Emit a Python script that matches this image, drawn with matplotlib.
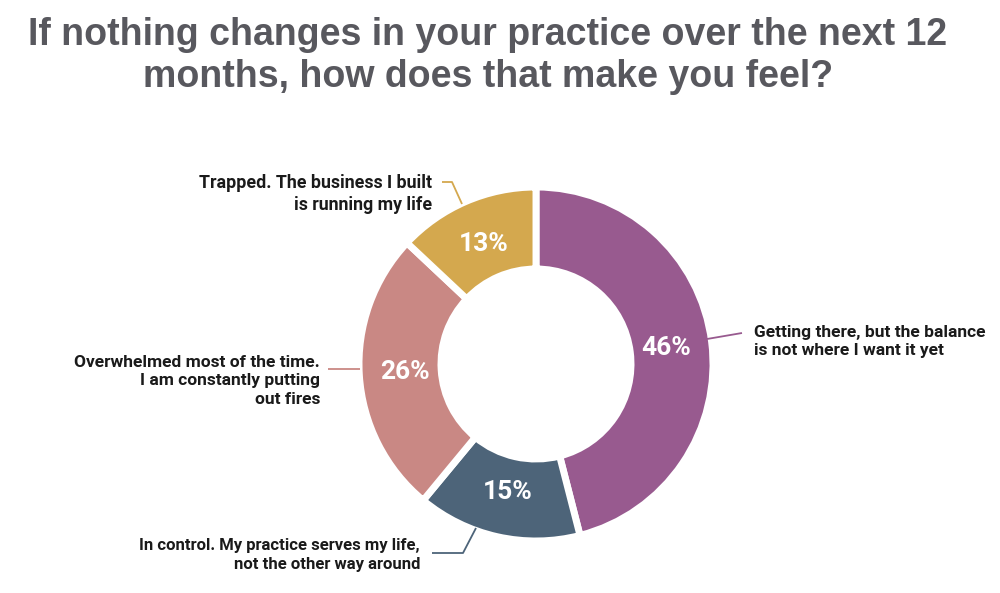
import matplotlib
matplotlib.use("Agg")
import matplotlib.pyplot as plt

W, H = 1000, 593

title = "If nothing changes in your practice over the next 12\nmonths, how does that make you feel?"

# slices, clockwise from 12 o'clock
labels = [
    "Getting there, but the balance\nis not where I want it yet",
    "In control. My practice serves my life,\nnot the other way around",
    "Overwhelmed most of the time.\nI am constantly putting\nout fires",
    "Trapped. The business I built\nis running my life",
]
shares = [46, 15, 26, 13]
colors = ["#985a8f", "#4d6479", "#c98884", "#d4a84e"]


def Y(v):
    # pixel rows are counted from the top in my notes
    return H - v


fig = plt.figure(figsize=(W / 100, H / 100), dpi=100)
fig.patch.set_facecolor("white")
ax = fig.add_axes([0, 0, 1, 1])

r_out, r_in = 177, 95
wedges, _, pcts = ax.pie(
    shares,
    colors=colors,
    startangle=90,
    counterclock=False,
    radius=r_out,
    center=(536, Y(364)),
    wedgeprops=dict(width=r_out - r_in, edgecolor="white", linewidth=5),
    autopct="%.0f%%",
    pctdistance=0.74,
    textprops=dict(color="white", fontsize=19, fontweight="bold", family=["Roboto", "DejaVu Sans"]),
)

ax.set_xlim(0, W)
ax.set_ylim(0, H)
ax.set_aspect("equal")
ax.axis("off")

# title
fig.text(0.488, Y(56) / H, title, ha="center", va="center", fontsize=27,
         fontweight="bold", color="#58585e", linespacing=1.24,
         family=["Liberation Sans", "DejaVu Sans"])

lab_font = dict(fontweight="bold", color="#1a1a1a",
                family=["Roboto", "DejaVu Sans"], linespacing=1.3)

# label anchor (x, y-center), alignment, size, leader line points
placements = [
    ((754, 341.5), "left", 12.5, [(707, 339), (742, 333)]),
    ((420, 555), "right", 12.0, [(476, 528), (463, 553), (432, 553)]),
    ((320, 381), "right", 12.5, [(328, 369), (360, 369)]),
    ((432, 194), "right", 12.8, [(442, 182), (452, 182), (462, 204)]),
]

for lab, col, (pos, ha, fs, pts) in zip(labels, colors, placements):
    ax.text(pos[0], Y(pos[1]), lab, ha=ha, va="center", multialignment=ha,
            fontsize=fs, **lab_font)
    xs = [p[0] for p in pts]
    ys = [Y(p[1]) for p in pts]
    ax.plot(xs, ys, color=col, lw=1.3, solid_capstyle="butt")

fig.savefig("out.png", dpi=100, facecolor="white")
